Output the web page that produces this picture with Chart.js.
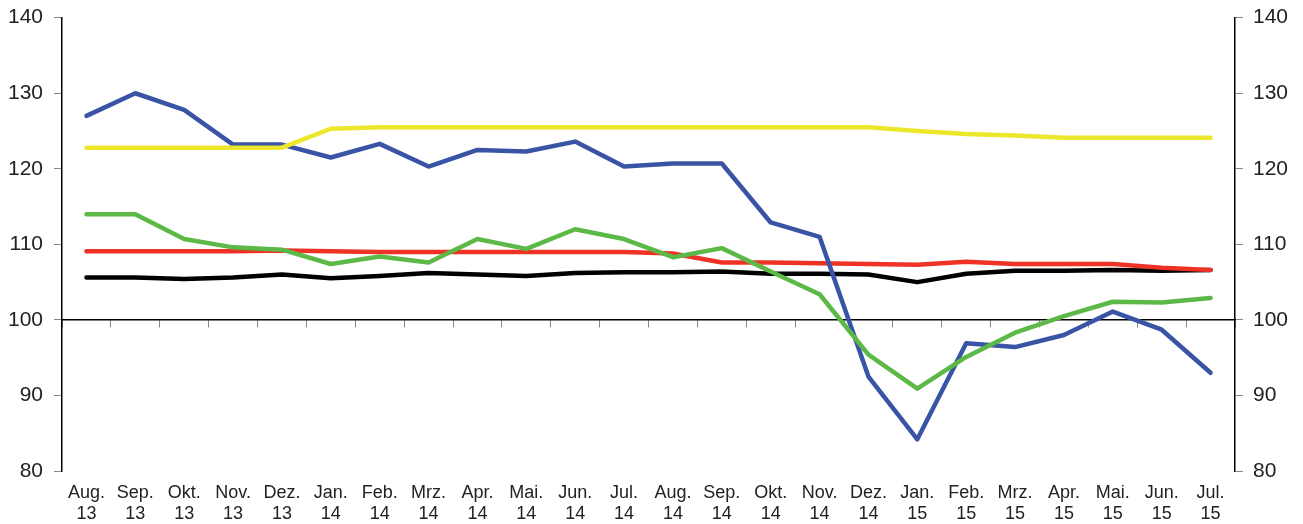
<!DOCTYPE html>
<html>
<head>
<meta charset="utf-8">
<script src="https://cdn.jsdelivr.net/npm/chart.js@4/dist/chart.umd.min.js"></script>
<style>
  html, body { margin: 0; padding: 0; background: #fff; }
  #wrap { width: 1303px; height: 524px; }
</style>
</head>
<body>
<div id="wrap"><canvas id="chart"></canvas></div>
<script>
const months = [
  ["Aug.", "13"], ["Sep.", "13"], ["Okt.", "13"], ["Nov.", "13"], ["Dez.", "13"],
  ["Jan.", "14"], ["Feb.", "14"], ["Mrz.", "14"], ["Apr.", "14"], ["Mai.", "14"],
  ["Jun.", "14"], ["Jul.", "14"], ["Aug.", "14"], ["Sep.", "14"], ["Okt.", "14"],
  ["Nov.", "14"], ["Dez.", "14"], ["Jan.", "15"], ["Feb.", "15"], ["Mrz.", "15"],
  ["Apr.", "15"], ["Mai.", "15"], ["Jun.", "15"], ["Jul.", "15"]
];

const yellowSeries = [122.8, 122.8, 122.8, 122.8, 122.8, 125.3, 125.5, 125.5, 125.5, 125.5,
  125.5, 125.5, 125.5, 125.5, 125.5, 125.5, 125.5, 125.0, 124.6, 124.4,
  124.1, 124.1, 124.1, 124.1];
const greenSeries = [114.0, 114.0, 110.7, 109.6, 109.3, 107.4, 108.4, 107.6, 110.7, 109.4,
  112.0, 110.7, 108.3, 109.5, 106.4, 103.4, 95.4, 90.9, 95.1, 98.3,
  100.5, 102.4, 102.3, 102.9];
const blueSeries = [127.0, 130.0, 127.8, 123.2, 123.2, 121.5, 123.3, 120.3, 122.5, 122.3,
  123.6, 120.3, 120.7, 120.7, 112.9, 111.0, 92.5, 84.2, 96.9, 96.4,
  98.0, 101.1, 98.7, 93.0];
const redSeries = [109.1, 109.1, 109.1, 109.1, 109.2, 109.1, 109.0, 109.0, 109.0, 109.0,
  109.0, 109.0, 108.8, 107.6, 107.6, 107.5, 107.4, 107.3, 107.7, 107.4,
  107.4, 107.4, 106.9, 106.6];
const blackSeries = [105.6, 105.6, 105.4, 105.6, 106.0, 105.5, 105.8, 106.2, 106.0, 105.8,
  106.2, 106.3, 106.3, 106.4, 106.1, 106.1, 106.0, 105.0, 106.1, 106.5,
  106.5, 106.6, 106.5, 106.6];

const yTicks = [80, 90, 100, 110, 120, 130, 140];

const FONT = "'Liberation Sans', Arial, sans-serif";

function line(data, color) {
  return {
    data: data,
    borderColor: color,
    backgroundColor: color,
    borderWidth: 4.5,
    pointRadius: 0,
    tension: 0,
    borderCapStyle: "round",
    borderJoinStyle: "round",
    xAxisID: "x",
    yAxisID: "y"
  };
}

function yAxis(pos) {
  return {
    type: "linear",
    position: pos,
    min: yTicks[0],
    max: yTicks[yTicks.length - 1],
    afterBuildTicks: axis => { axis.ticks = yTicks.map(v => ({ value: v })); },
    // fixed width / top gap so the plot area lines up with the original
    afterFit: axis => { axis.width = 54; axis.paddingTop = 17.7; },
    border: { display: true, color: "#000", width: 1.5 },
    grid: { drawOnChartArea: false, drawTicks: true, tickLength: 8, color: "#888" },
    ticks: { color: "#222", padding: pos === "left" ? 11 : 10, font: { family: FONT, size: 21 } }
  };
}

new Chart(document.getElementById("chart"), {
  type: "line",
  data: {
    labels: months,
    datasets: [
      line(yellowSeries, "#ede72c"),
      line(greenSeries, "#5db947"),
      line(blueSeries, "#3a54a5"),
      line(redSeries, "#ee3326"),
      line(blackSeries, "#000000")
    ]
  },
  options: {
    responsive: true,
    maintainAspectRatio: false,
    animation: false,
    layout: { padding: { top: 0, left: 8, right: 14, bottom: 0 } },
    plugins: { legend: { display: false }, tooltip: { enabled: false } },
    scales: {
      x: {
        type: "category",
        position: "bottom",
        offset: true,
        afterFit: axis => { axis.height = 53; },
        border: { display: false },
        grid: { display: false, drawTicks: false },
        ticks: {
          color: "#222",
          padding: 12,
          maxRotation: 0,
          autoSkip: false,
          font: { family: FONT, size: 18, lineHeight: 1.14 }
        }
      },
      // baseline at 100 with small category ticks
      xBase: {
        type: "category",
        axis: "x",
        labels: months,
        position: { y: 100 },
        offset: true,
        border: { display: true, color: "#000", width: 1.5 },
        grid: { offset: true, drawOnChartArea: false, drawTicks: true, tickLength: 7, color: "#888" },
        ticks: { display: false }
      },
      y: yAxis("left"),
      y2: yAxis("right")
    }
  }
});
</script>
</body>
</html>
